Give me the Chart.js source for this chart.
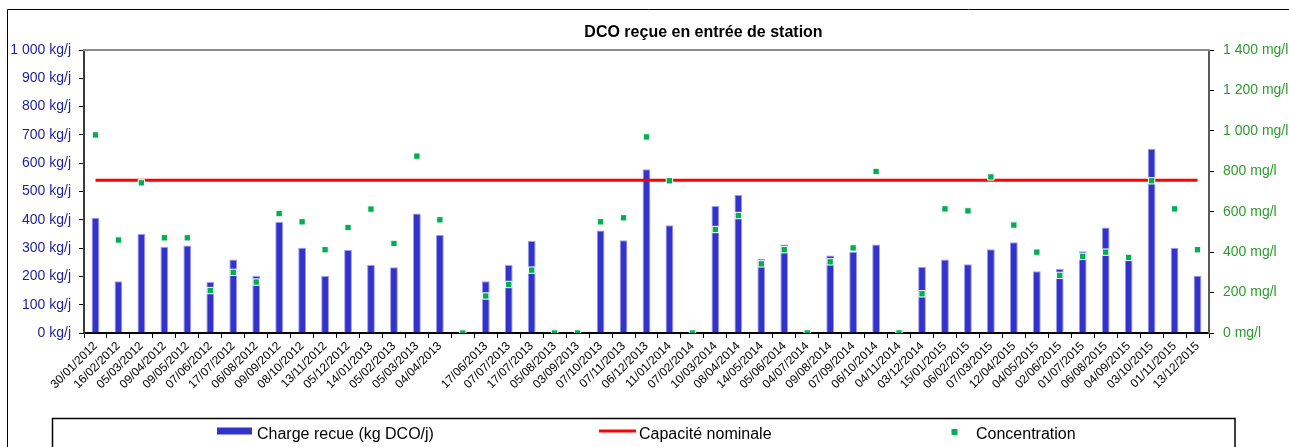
<!DOCTYPE html>
<html lang="fr">
<head>
<meta charset="utf-8">
<title>DCO reçue en entrée de station</title>
<script src="https://cdn.jsdelivr.net/npm/chart.js@4.4.1/dist/chart.umd.min.js"></script>
<style>
  html, body { margin: 0; padding: 0; background: #ffffff; }
  canvas { display: block; }
</style>
</head>
<body>
<canvas id="dco" width="1289" height="447"></canvas>
<script>
// Dates de prélèvement (bilans 24 h)
const dates = [
  '30/01/2012', '16/02/2012', '05/03/2012', '09/04/2012', '09/05/2012', '07/06/2012',
  '17/07/2012', '06/08/2012', '09/09/2012', '08/10/2012', '13/11/2012', '05/12/2012',
  '14/01/2013', '05/02/2013', '05/03/2013', '04/04/2013', '', '17/06/2013',
  '07/07/2013', '17/07/2013', '05/08/2013', '03/09/2013', '07/10/2013', '07/11/2013',
  '06/12/2013', '11/01/2014', '07/02/2014', '10/03/2014', '08/04/2014', '14/05/2014',
  '05/06/2014', '04/07/2014', '09/08/2014', '07/09/2014', '06/10/2014', '04/11/2014',
  '03/12/2014', '15/01/2015', '06/02/2015', '07/03/2015', '12/04/2015', '04/05/2015',
  '02/06/2015', '01/07/2015', '06/08/2015', '04/09/2015', '03/10/2015', '01/11/2015',
  '13/12/2015'
];

// Charge DCO reçue (kg DCO/j) ; null = pas de mesure de charge
const chargeRecue = [
  407, 183, 350, 305, 309, 180,
  260, 201, 392, 301, 201, 293,
  240, 232, 422, 346, null, 183,
  240, 325, null, null, 362, 328,
  579, 381, null, 449, 488, 262,
  313, null, 274, 287, 313, null,
  233, 260, 243, 296, 321, 218,
  226, 289, 373, 259, 651, 301,
  202
];

// Concentration DCO en entrée (mg/l)
const concentration = [
  980, 460, 743, 471, 471, 210,
  300, 252, 591, 550, 412, 522,
  613, 443, 875, 560, 0, 183,
  240, 311, 0, 0, 550, 570,
  970, 753, 0, 512, 581, 342,
  412, 0, 352, 421, 799, 0,
  194, 614, 604, 772, 534, 400,
  285, 379, 400, 374, 753, 614,
  412
];

// Capacité nominale de la station (kg DCO/j)
const capaciteNominale = 540;

const FONT = "'Liberation Sans', Arial, Helvetica, sans-serif";
Chart.defaults.font.family = FONT;

// "1000" -> "1 000"
const milliers = v => String(v).replace(/\B(?=(\d{3})+(?!\d))/g, ' ');

// Cadre, titre et légende dessinés autour de la zone de tracé
const habillage = {
  id: 'habillage',
  beforeDraw(chart) {
    const ctx = chart.ctx;
    ctx.save();
    ctx.fillStyle = '#ffffff';
    ctx.fillRect(0, 0, chart.width, chart.height);
    ctx.restore();
  },
  afterDraw(chart) {
    const { ctx, chartArea: a } = chart;
    ctx.save();

    // bord supérieur de la zone de tracé
    ctx.strokeStyle = '#8a8a8a';
    ctx.lineWidth = 2;
    ctx.beginPath();
    ctx.moveTo(a.left - 1, a.top);
    ctx.lineTo(a.right + 1, a.top);
    ctx.stroke();

    // cadre extérieur du graphique
    ctx.strokeStyle = '#000000';
    ctx.lineWidth = 1;
    ctx.beginPath();
    ctx.moveTo(7.5, chart.height);
    ctx.lineTo(7.5, 9.5);
    ctx.lineTo(chart.width, 9.5);
    ctx.stroke();

    // titre
    ctx.fillStyle = '#000000';
    ctx.font = 'bold 16px ' + FONT;
    ctx.textAlign = 'center';
    ctx.textBaseline = 'alphabetic';
    ctx.fillText('DCO reçue en entrée de station', 703.5, 36.5);

    // cadre de la légende
    ctx.strokeStyle = '#000000';
    ctx.lineWidth = 1.5;
    ctx.beginPath();
    ctx.moveTo(52.5, chart.height + 2);
    ctx.lineTo(52.5, 418.5);
    ctx.lineTo(1235, 418.5);
    ctx.lineTo(1235, chart.height + 2);
    ctx.stroke();

    // entrées de légende
    const ds = chart.data.datasets;
    const barre = ds.find(d => d.type === 'bar');
    const ligne = ds.find(d => d.type === 'line' && d.showLine !== false);
    const points = ds.find(d => d.type === 'line' && d.showLine === false);
    const yc = 431;
    ctx.font = '16px ' + FONT;
    ctx.textAlign = 'left';
    ctx.fillStyle = '#000000';

    ctx.fillStyle = barre.backgroundColor;
    ctx.fillRect(217, yc - 3.5, 35, 7);
    ctx.fillStyle = '#000000';
    ctx.fillText(barre.label, 257, 438.5);

    ctx.strokeStyle = ligne.borderColor;
    ctx.lineWidth = ligne.borderWidth;
    ctx.beginPath();
    ctx.moveTo(599, yc);
    ctx.lineTo(636, yc);
    ctx.stroke();
    ctx.fillText(ligne.label, 639, 438.5);

    ctx.fillStyle = points.pointBackgroundColor;
    ctx.fillRect(951.5, yc - 2, 6, 6);
    ctx.fillStyle = '#000000';
    ctx.fillText(points.label, 976, 438.5);

    ctx.restore();
  }
};

new Chart(document.getElementById('dco'), {
  type: 'bar',
  data: {
    labels: dates,
    datasets: [
      {
        type: 'line',
        label: 'Concentration',
        data: concentration,
        yAxisID: 'y1',
        showLine: false,
        pointStyle: 'rect',
        pointRadius: 4.5,
        pointBackgroundColor: '#00b050',
        pointBorderColor: '#ffffff',
        pointBorderWidth: 1,
        order: 0
      },
      {
        type: 'line',
        label: 'Capacité nominale',
        data: dates.map(() => capaciteNominale),
        yAxisID: 'y',
        borderColor: '#ff0000',
        borderWidth: 3,
        pointRadius: 0,
        fill: false,
        order: 1
      },
      {
        type: 'bar',
        label: 'Charge recue (kg DCO/j)',
        data: chargeRecue,
        yAxisID: 'y',
        backgroundColor: '#3333cc',
        borderColor: '#9c9cf0',
        borderWidth: { top: 1, left: 1, right: 1, bottom: 0 },
        borderSkipped: false,
        categoryPercentage: 1,
        barPercentage: 0.34,
        order: 2
      }
    ]
  },
  options: {
    responsive: false,
    animation: false,
    devicePixelRatio: 1,
    layout: { padding: { top: 50, left: 0, right: 0, bottom: 0 } },
    plugins: {
      legend: { display: false },
      title: { display: false },
      tooltip: { enabled: false }
    },
    scales: {
      x: {
        offset: true,
        grid: { display: true, drawOnChartArea: false, offset: true, tickLength: 5, color: '#000000', lineWidth: 1 },
        border: { color: '#000000', width: 2 },
        ticks: { autoSkip: false, minRotation: 45, maxRotation: 45, color: '#000000', font: { size: 12 }, padding: 1 },
        afterFit(s) { s.height = 114; }
      },
      y: {
        position: 'left',
        min: 0,
        max: 1000,
        grid: { drawOnChartArea: false, tickLength: 5, color: '#000000' },
        border: { color: '#3a3a3a', width: 2 },
        ticks: { stepSize: 100, color: '#1f1f99', font: { size: 14 }, padding: 8, callback: v => milliers(v) + ' kg/j' },
        afterFit(s) { s.width = 84; }
      },
      y1: {
        position: 'right',
        min: 0,
        max: 1400,
        grid: { drawOnChartArea: false, tickLength: 5, color: '#000000' },
        border: { color: '#5a5a5a', width: 2 },
        ticks: { stepSize: 200, color: '#2e9b2e', font: { size: 14 }, padding: 9, callback: v => milliers(v) + ' mg/l' },
        afterFit(s) { s.width = 80; }
      }
    }
  },
  plugins: [habillage]
});
</script>
</body>
</html>
